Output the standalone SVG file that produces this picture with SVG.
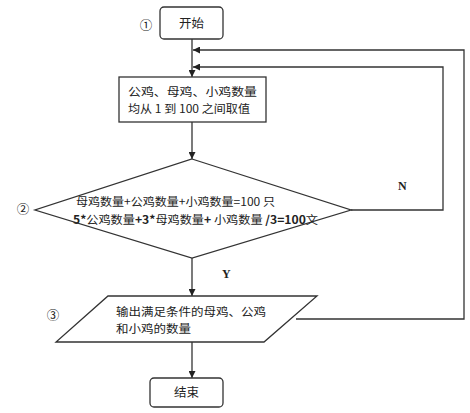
<svg xmlns="http://www.w3.org/2000/svg" width="470" height="413" viewBox="0 0 470 413">
<style>
.s{fill:#fff;stroke:#333;stroke-width:1.3}
.c{fill:none;stroke:#333;stroke-width:1.3}
.t{font-family:"Noto Sans CJK SC","Liberation Sans",sans-serif;font-size:12.5px;fill:#222}
.m{font-size:11.5px}
.b{font-weight:bold}
.l{font-family:"Liberation Serif",serif;font-size:12px;font-weight:bold;fill:#222}
</style>
<defs>
<marker id="a" viewBox="0 0 10 10" refX="10" refY="5" markerWidth="7" markerHeight="7" markerUnits="userSpaceOnUse" orient="auto">
<path d="M0,0 L10,5 L0,10 z" fill="#222"/>
</marker>
</defs>
<rect width="470" height="413" fill="#fff"/>
<g id="connectors">
<line class="c" x1="192" y1="39" x2="192" y2="77" marker-end="url(#a)"/>
<line class="c" x1="192" y1="122" x2="192" y2="159" marker-end="url(#a)"/>
<line class="c" x1="192" y1="258" x2="192" y2="296" marker-end="url(#a)"/>
<line class="c" x1="192" y1="342" x2="192" y2="378" marker-end="url(#a)"/>
<polyline class="c" points="351,210 443,210 443,67 193,67" marker-end="url(#a)"/>
<polyline class="c" points="296,319 464,319 464,50 193,50" marker-end="url(#a)"/>
<text class="l" x="398" y="190">N</text>
<text class="l" x="222" y="278">Y</text>
</g>
<g id="start">
<rect class="s" x="160" y="7" width="63" height="32" rx="4"/>
<text class="t" x="191.5" y="28" text-anchor="middle">开始</text>
<text class="t" x="146" y="30" text-anchor="middle">①</text>
</g>
<g id="init">
<rect class="s" x="119" y="77" width="147" height="45"/>
<text class="t m" x="128" y="96" textLength="129" lengthAdjust="spacingAndGlyphs">公鸡、母鸡、小鸡数量</text>
<text class="t m" x="128" y="113" textLength="122" lengthAdjust="spacingAndGlyphs">均从 1 到 100 之间取值</text>
</g>
<g id="cond">
<polygon class="s" points="192,159 351,210 192,258 35,210"/>
<text class="t m" x="76" y="206" textLength="199" lengthAdjust="spacingAndGlyphs">母鸡数量+公鸡数量+小鸡数量=100 只</text>
<text class="t m" x="73" y="224" textLength="245" lengthAdjust="spacingAndGlyphs"><tspan class="b">5*</tspan>公鸡数量<tspan class="b">+3*</tspan>母鸡数量<tspan class="b">+ </tspan>小鸡数量<tspan class="b"> /3=100</tspan>文</text>
<text class="t" x="23" y="214" text-anchor="middle">②</text>
</g>
<g id="output">
<polygon class="s" points="108,296 317,296 264,342 56,342"/>
<text class="t m" x="116" y="316" textLength="150" lengthAdjust="spacingAndGlyphs">输出满足条件的母鸡、公鸡</text>
<text class="t m" x="116" y="333" textLength="75" lengthAdjust="spacingAndGlyphs">和小鸡的数量</text>
<text class="t" x="53" y="320" text-anchor="middle">③</text>
</g>
<g id="end">
<rect class="s" x="150" y="378" width="73" height="29" rx="4"/>
<text class="t" x="186.5" y="397" text-anchor="middle">结束</text>
</g>
</svg>
